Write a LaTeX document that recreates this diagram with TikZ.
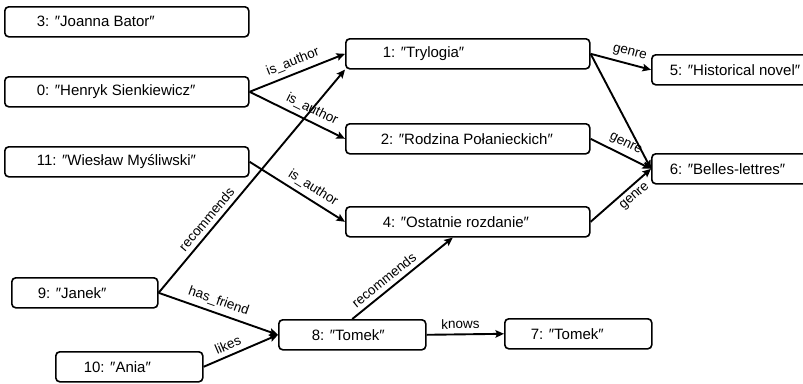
\documentclass[tikz,border=0pt]{standalone}
\usepackage{fontspec}
\setmainfont{Liberation Sans}
\usetikzlibrary{arrows.meta}
\begin{document}
\begin{tikzpicture}[x=1pt,y=-1pt,
  box/.style={draw, line width=1.6pt, rounded corners=4pt, minimum height=30pt,
    anchor=north west, inner ysep=0pt, font=\fontsize{15}{18}\selectfont},
  edge/.style={line width=1.9pt, -{Stealth[length=8.5pt,width=7.5pt,inset=1.5pt]}},
  lbl/.style={font=\fontsize{13.5}{16}\selectfont, sloped, inner sep=4.5pt}]
\useasboundingbox (0,0) rectangle (803,383);
\clip (0,0) rectangle (803,383);
% left column
\node[box, inner xsep=32pt] (n3) at (4,6) {\makebox[180pt][l]{3: ″Joanna Bator″}};
\node[box, inner xsep=32pt] (n0) at (4,76) {\makebox[180pt][l]{0: ″Henryk Sienkiewicz″}};
\node[box, inner xsep=32pt] (n11) at (4,146) {\makebox[180pt][l]{11: ″Wiesław Myśliwski″}};
\node[box, inner xsep=26pt] (n9) at (11,277) {\makebox[94pt][l]{9: ″Janek″}};
\node[box, inner xsep=28pt] (n10) at (55,351) {\makebox[91pt][l]{10: ″Ania″}};
% middle
\node[box, inner xsep=33pt] (n8) at (278,319) {\makebox[81pt][l]{8: ″Tomek″}};
\node[box, inner xsep=26pt] (n7) at (504,318) {\makebox[95pt][l]{7: ″Tomek″}};
\node[box, inner xsep=37pt] (n1) at (345,38) {\makebox[170pt][l]{1: ″Trylogia″}};
\node[box, inner xsep=35pt] (n2) at (345,123) {\makebox[174pt][l]{2: ″Rodzina Połanieckich″}};
\node[box, inner xsep=37pt] (n4) at (345,206) {\makebox[170pt][l]{4: ″Ostatnie rozdanie″}};
% right
\node[box, inner xsep=18pt] (n5) at (651,54) {\makebox[208pt][l]{5: ″Historical novel″}};
\node[box, inner xsep=18pt] (n6) at (651,153) {\makebox[208pt][l]{6: ″Belles-lettres″}};
% edges
\draw[edge] (n0.east) -- node[lbl, above, pos=0.5] {is\_author} (n1.west);
\draw[edge] (n0.east) -- node[lbl, above, pos=0.6] {is\_author} (n2.west);
\draw[edge] (n11.east) -- node[lbl, above, pos=0.6] {is\_author} (n4.west);
\draw[edge] (n9.east) -- node[lbl, above, pos=0.3] {recommends} (n1.south west);
\draw[edge] (n9.east) -- node[lbl, above, pos=0.47] {has\_friend} (n8.west);
\draw[edge] (n10.east) -- node[lbl, above, pos=0.38] {likes} (n8.west);
\draw[edge] (n8.north) -- node[lbl, above, pos=0.38] {recommends} ([xshift=-15pt]n4.south);
\draw[edge] (n8.east) -- node[lbl, above, pos=0.44] {knows} (n7.west);
\draw[edge] (n1.east) -- node[lbl, above, pos=0.6] {genre} (n5.west);
\draw[edge] (n1.east) -- (n6.west);
\draw[edge] (n2.east) -- node[lbl, above, pos=0.5] {genre} (n6.west);
\draw[edge] (n4.east) -- node[lbl, below, pos=0.62] {genre} (n6.west);
\end{tikzpicture}
\end{document}
